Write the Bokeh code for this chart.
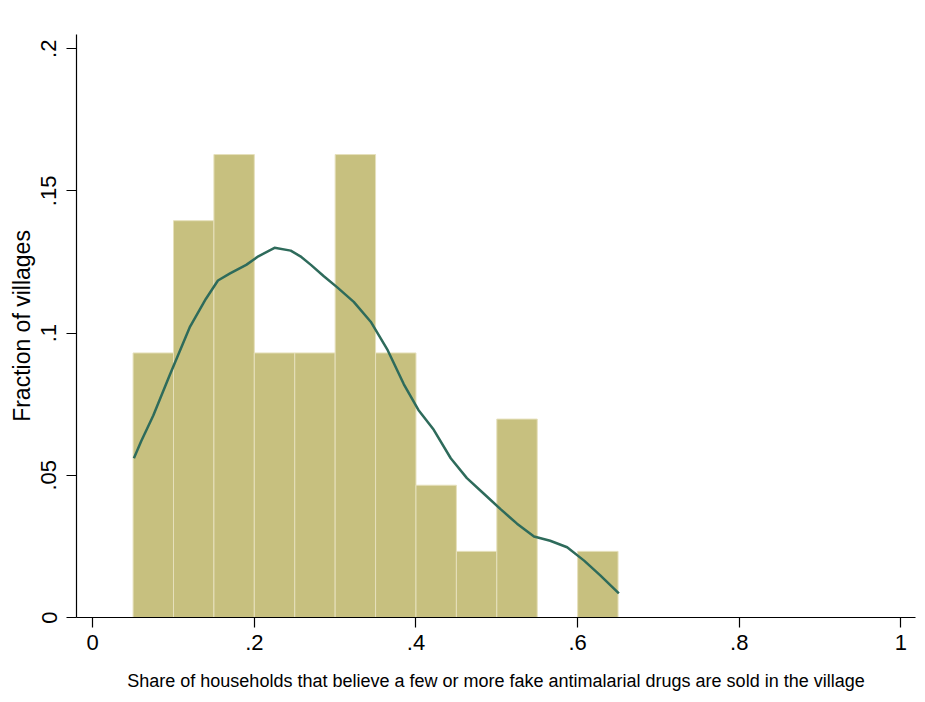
from bokeh.plotting import figure
from bokeh.models import FixedTicker, Range1d
from bokeh.embed import file_html
from bokeh.resources import INLINE

# Histogram bins (width 0.05) and fraction of villages
bin_left = [0.05, 0.10, 0.15, 0.20, 0.25, 0.30, 0.35, 0.40, 0.45, 0.50, 0.55, 0.60]
bin_right = [0.10, 0.15, 0.20, 0.25, 0.30, 0.35, 0.40, 0.45, 0.50, 0.55, 0.60, 0.65]
fraction = [4/43, 6/43, 7/43, 4/43, 4/43, 7/43, 4/43, 2/43, 1/43, 3/43, 0.0, 1/43]

# Kernel density curve
kde_x = [0.051, 0.06, 0.075, 0.095, 0.12, 0.14, 0.155, 0.17, 0.19, 0.205, 0.225,
         0.245, 0.257, 0.27, 0.286, 0.303, 0.323, 0.344, 0.365, 0.385, 0.403,
         0.422, 0.443, 0.463, 0.484, 0.505, 0.525, 0.546, 0.566, 0.587, 0.608,
         0.628, 0.651]
kde_y = [0.056, 0.062, 0.071, 0.085, 0.102, 0.112, 0.1185, 0.121, 0.124, 0.127, 0.130,
         0.129, 0.127, 0.124, 0.120, 0.116, 0.111, 0.104, 0.094, 0.082, 0.073,
         0.066, 0.056, 0.049, 0.0435, 0.038, 0.033, 0.0285, 0.027, 0.0247, 0.020,
         0.0148, 0.0085]

x_ticks = [0, 0.2, 0.4, 0.6, 0.8, 1]
x_tick_labels = ["0", ".2", ".4", ".6", ".8", "1"]
y_ticks = [0, 0.05, 0.1, 0.15, 0.2]
y_tick_labels = ["0", ".05", ".1", ".15", ".2"]

FONT = "Liberation Sans"

p = figure(width=917, height=694, output_backend="svg", toolbar_location=None,
           x_range=Range1d(-0.02, 1.018), y_range=Range1d(0, 0.205),
           min_border_left=76, min_border_right=2, min_border_top=34,
           min_border_bottom=77)
p.outline_line_color = None
p.grid.visible = False
p.background_fill_color = "white"
p.border_fill_color = "white"

p.quad(left=bin_left, right=bin_right, bottom=0, top=fraction,
       fill_color="#C7C07F", line_color="#E6E0BC", line_width=1)
p.line(kde_x, kde_y, line_color="#2E6B5B", line_width=2.5, line_join="round")

for ax in (p.xaxis[0], p.yaxis[0]):
    ax.axis_line_color = "black"
    ax.axis_line_width = 1.2
    ax.major_tick_line_color = "black"
    ax.major_tick_line_width = 1.2
    ax.major_tick_out = 10
    ax.major_tick_in = 0
    ax.minor_tick_line_color = None
    ax.major_label_text_font = FONT
    ax.major_label_text_font_size = "22px"
    ax.major_label_text_color = "black"
    ax.axis_label_text_font = FONT
    ax.axis_label_text_font_style = "normal"
    ax.axis_label_text_color = "black"

p.xaxis.ticker = FixedTicker(ticks=x_ticks)
p.xaxis.major_label_overrides = dict(zip(x_ticks, x_tick_labels))
p.xaxis.major_label_standoff = 7
p.xaxis.axis_label = "Share of households that believe a few or more fake antimalarial drugs are sold in the village"
p.xaxis.axis_label_text_font_size = "18px"
p.xaxis.axis_label_standoff = 18

p.yaxis.ticker = FixedTicker(ticks=y_ticks)
p.yaxis.major_label_overrides = dict(zip(y_ticks, y_tick_labels))
p.yaxis.major_label_orientation = "vertical"
p.yaxis.major_label_standoff = 10
p.yaxis.axis_label = "Fraction of villages"
p.yaxis.axis_label_text_font_size = "23px"
p.yaxis.axis_label_standoff = 4

open("out.html", "w").write(file_html(p, INLINE))
